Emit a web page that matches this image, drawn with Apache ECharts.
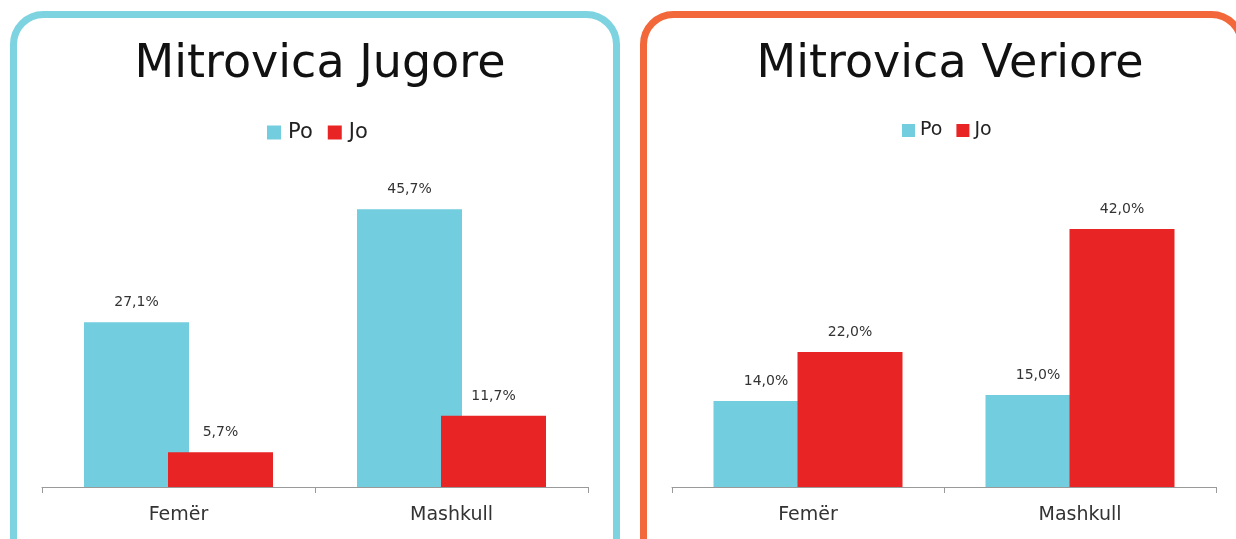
<!DOCTYPE html>
<html>
<head>
<meta charset="utf-8">
<script src="https://cdn.jsdelivr.net/npm/echarts@6/dist/echarts.min.js"></script>
<style>
  html, body { margin: 0; padding: 0; background: #fff; }
  #chart { width: 1236px; height: 539px; }
</style>
</head>
<body>
<div id="chart"></div>
<script>
// data
let categories = ['Femër', 'Mashkull'];
let seriesNames = ['Po', 'Jo'];
let jugorePo = [27.1, 45.7];
let jugoreJo = [5.7, 11.7];
let veriorePo = [14.0, 15.0];
let veriorJo = [22.0, 42.0];

let cyan = '#72cddf';
let red = '#e82424';
let font = 'DejaVu Sans';

let chart = echarts.init(document.getElementById('chart'));

function fmt (p) {
    return p.value.toFixed(1).replace('.', ',') + '%';
}

function bars (name, data, color, idx) {
    return {
        name: name,
        type: 'bar',
        xAxisIndex: idx,
        yAxisIndex: idx,
        barWidth: 105,
        barGap: '-20%',
        itemStyle: { color: color },
        label: {
            show: true,
            position: 'top',
            distance: 13,
            formatter: fmt,
            color: '#333',
            fontSize: 14,
            fontFamily: font
        },
        data: data
    };
}

let xAxisStyle = {
    type: 'category',
    data: categories,
    axisLine: { lineStyle: { color: '#9a9a9a', width: 1 } },
    axisTick: { show: true, length: 6, lineStyle: { color: '#9a9a9a' } },
    axisLabel: { color: '#333', fontSize: 19, fontFamily: font, margin: 19 }
};

let option = {
    animation: false,
    graphic: [
        {
            type: 'rect',
            shape: { x: 13.5, y: 14.5, width: 603, height: 560, r: 30 },
            style: { fill: 'none', stroke: '#7ed3e1', lineWidth: 7 }
        },
        {
            type: 'rect',
            shape: { x: 643.5, y: 14.5, width: 598, height: 560, r: 30 },
            style: { fill: 'none', stroke: '#f2683a', lineWidth: 7 }
        }
    ],
    title: [
        {
            text: 'Mitrovica Jugore',
            left: 315,
            top: 37,
            textAlign: 'center',
            textStyle: { fontSize: 46, fontWeight: 'normal', color: '#111', fontFamily: font }
        },
        {
            text: 'Mitrovica Veriore',
            left: 945,
            top: 37,
            textAlign: 'center',
            textStyle: { fontSize: 46, fontWeight: 'normal', color: '#111', fontFamily: font }
        }
    ],
    legend: [
        {
            data: seriesNames,
            left: 262,
            top: 117,
            itemWidth: 14,
            itemHeight: 14,
            itemGap: 15,
            icon: 'rect',
            textStyle: { fontSize: 21, color: '#222', fontFamily: font, padding: [0, 0, 0, 2] }
        },
        {
            data: seriesNames,
            left: 897,
            top: 116,
            itemWidth: 13,
            itemHeight: 13,
            itemGap: 14,
            icon: 'rect',
            textStyle: { fontSize: 19, color: '#222', fontFamily: font }
        }
    ],
    grid: [
        { left: 42, width: 546, top: 183, height: 304 },
        { left: 672, width: 544, top: 180, height: 307 }
    ],
    xAxis: [
        Object.assign({ gridIndex: 0 }, xAxisStyle),
        Object.assign({ gridIndex: 1 }, xAxisStyle)
    ],
    yAxis: [
        { gridIndex: 0, type: 'value', min: 0, max: 50, show: false },
        { gridIndex: 1, type: 'value', min: 0, max: 50, show: false }
    ],
    series: [
        bars('Po', jugorePo, cyan, 0),
        bars('Jo', jugoreJo, red, 0),
        bars('Po', veriorePo, cyan, 1),
        bars('Jo', veriorJo, red, 1)
    ]
};

chart.setOption(option);

window.addEventListener('resize', function () {
    chart.resize();
});
</script>
</body>
</html>
